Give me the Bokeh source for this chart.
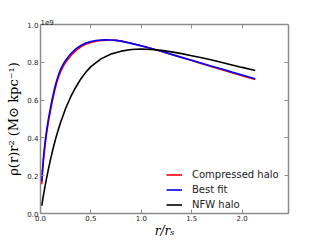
from bokeh.plotting import figure
from bokeh.models import (Range1d, LinearAxis, FixedTicker, NumeralTickFormatter,
                          Legend, LegendItem, Title)
from bokeh.embed import file_html
from bokeh.resources import INLINE

# radius in units of r_s
r_model = [0.012, 0.02, 0.03, 0.04, 0.05, 0.065, 0.08, 0.1, 0.12, 0.14, 0.16, 0.18, 0.2,
           0.225, 0.25, 0.3, 0.35, 0.4, 0.45, 0.5, 0.55, 0.6, 0.65, 0.7, 0.75, 0.8, 0.9,
           1.0, 1.1, 1.2, 1.3, 1.4, 1.5, 1.6, 1.7, 1.8, 1.9, 2.0, 2.13]
# rho(r) r^2 in units of 1e9 Msun/kpc
compressed = [0.155, 0.22, 0.283, 0.335, 0.381, 0.44, 0.49, 0.547, 0.601, 0.649, 0.69, 0.724,
              0.751, 0.778, 0.80, 0.835, 0.862, 0.882, 0.896, 0.905, 0.911, 0.915, 0.917,
              0.917, 0.916, 0.912, 0.901, 0.888, 0.873, 0.857, 0.841, 0.825, 0.809, 0.793,
              0.777, 0.761, 0.745, 0.729, 0.709]
best_fit = [0.17, 0.235, 0.30, 0.352, 0.397, 0.455, 0.505, 0.562, 0.615, 0.663, 0.703, 0.736,
            0.763, 0.79, 0.811, 0.845, 0.871, 0.889, 0.902, 0.91, 0.915, 0.918, 0.919,
            0.918, 0.916, 0.912, 0.900, 0.887, 0.873, 0.858, 0.842, 0.826, 0.811, 0.795,
            0.779, 0.764, 0.748, 0.733, 0.713]
r_nfw = [0.012, 0.03, 0.05, 0.075, 0.1, 0.125, 0.15, 0.175, 0.2, 0.25, 0.3, 0.35, 0.4,
         0.45, 0.5, 0.6, 0.7, 0.8, 0.9, 1.0, 1.1, 1.2, 1.3, 1.4, 1.5, 1.6, 1.7, 1.8,
         1.9, 2.0, 2.13]
nfw = [0.041, 0.098, 0.158, 0.226, 0.288, 0.344, 0.395, 0.441, 0.483, 0.557, 0.618,
       0.668, 0.712, 0.748, 0.777, 0.818, 0.844, 0.859, 0.868, 0.870, 0.868, 0.863,
       0.855, 0.846, 0.835, 0.824, 0.812, 0.799, 0.786, 0.773, 0.757]

x_ticks = [0.0, 0.5, 1.0, 1.5, 2.0]
y_ticks = [0.0, 0.2, 0.4, 0.6, 0.8, 1.0]
series_labels = ["Compressed halo", "Best fit", "NFW halo"]
x_label = "r/rₛ"
y_label = "ρ(r)r² (M⊙ kpc⁻¹)"
offset_label = "1e9"

AX = "#8c8c8c"
TXT = "#222222"

p = figure(width=320, height=240, output_backend="svg", toolbar_location=None,
           x_range=Range1d(0, 2.46), y_range=Range1d(0, 1.0),
           min_border_left=40, min_border_right=32, min_border_top=24,
           min_border_bottom=24, x_axis_location=None, y_axis_location=None)
p.grid.visible = False
p.outline_line_color = None
p.background_fill_color = "white"
p.border_fill_color = "white"


def style_axis(ax, ticks, show_labels):
    ax.ticker = FixedTicker(ticks=ticks)
    ax.formatter = NumeralTickFormatter(format="0.0")
    ax.axis_line_color = AX
    ax.axis_line_width = 1.5
    ax.major_tick_line_color = AX
    ax.major_tick_in = 4
    ax.major_tick_out = 0
    ax.minor_tick_line_color = None
    ax.major_label_text_font = "DejaVu Sans"
    ax.major_label_text_font_size = "7px"
    ax.major_label_text_color = TXT if show_labels else None
    ax.major_label_standoff = 2


xb = LinearAxis()
style_axis(xb, x_ticks, True)
xb.major_label_standoff = 1
xb.axis_label = x_label
xb.axis_label_text_font = "DejaVu Serif"
xb.axis_label_text_font_style = "italic"
xb.axis_label_text_font_size = "12px"
xb.axis_label_text_color = "black"
xb.axis_label_standoff = 0
p.add_layout(xb, "below")

yl = LinearAxis()
style_axis(yl, y_ticks, True)
yl.axis_label = y_label
yl.axis_label_text_font = "DejaVu Serif"
yl.axis_label_text_font_style = "normal"
yl.axis_label_text_font_size = "13px"
yl.axis_label_text_color = "black"
yl.axis_label_standoff = 3
p.add_layout(yl, "left")

xt = LinearAxis()
style_axis(xt, x_ticks, False)
xt.major_label_text_font_size = "0px"
xt.major_label_standoff = 0
p.add_layout(xt, "above")

yr = LinearAxis()
style_axis(yr, y_ticks, False)
yr.major_label_text_font_size = "0px"
yr.major_label_standoff = 0
p.add_layout(yr, "right")

p.add_layout(Title(text=offset_label, align="left", text_font="DejaVu Sans",
                   text_font_size="7px", text_font_style="normal",
                   text_color=TXT, standoff=0, offset=0), "above")

r1 = p.line(r_model, compressed, line_color="red", line_width=1.6)
r2 = p.line(r_model, best_fit, line_color="blue", line_width=1.6)
r3 = p.line(r_nfw, nfw, line_color="black", line_width=1.6)

legend = Legend(items=[LegendItem(label=series_labels[0], renderers=[r1]),
                       LegendItem(label=series_labels[1], renderers=[r2]),
                       LegendItem(label=series_labels[2], renderers=[r3])],
                location=(126, 1), padding=0, margin=0,
                border_line_color=None, background_fill_alpha=0,
                glyph_width=16, glyph_height=15, label_height=15,
                label_standoff=10, spacing=0,
                label_text_font="DejaVu Sans", label_text_font_size="10px",
                label_text_color=TXT)
p.add_layout(legend)

open("out.html", "w").write(file_html(p, INLINE))
